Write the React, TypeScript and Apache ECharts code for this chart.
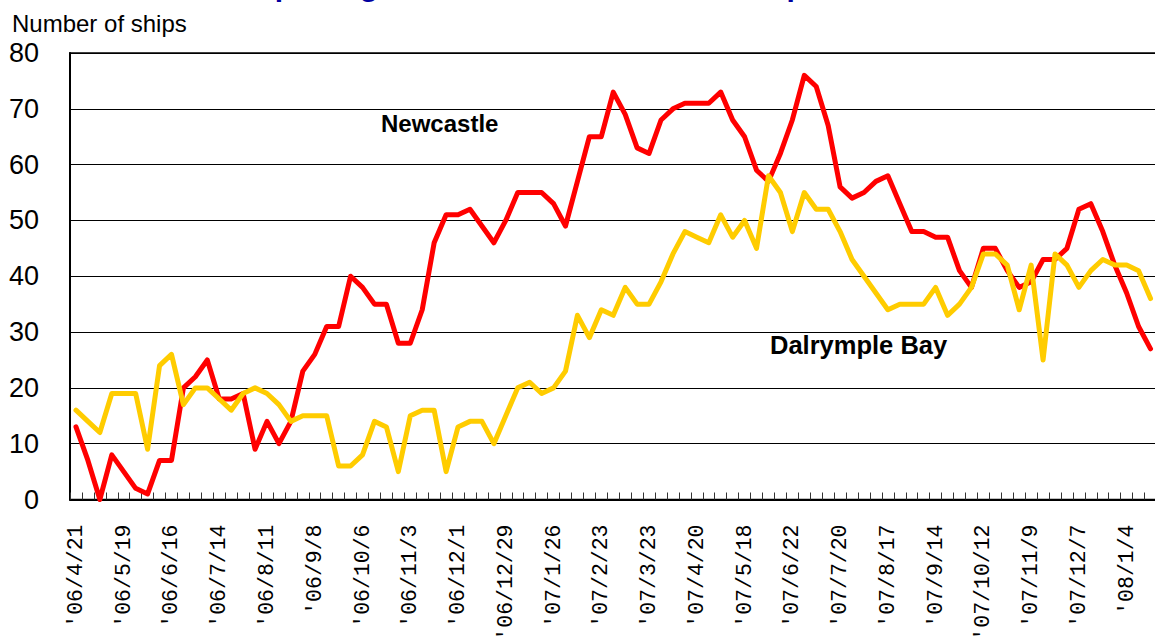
import React, { useEffect, useRef } from "react";
import * as echarts from "echarts";

const dates = [
  "'06/4/21", "'06/4/28", "'06/5/5", "'06/5/12", "'06/5/19", "'06/5/26", "'06/6/2", "'06/6/9",
  "'06/6/16", "'06/6/23", "'06/6/30", "'06/7/7", "'06/7/14", "'06/7/21", "'06/7/28", "'06/8/4",
  "'06/8/11", "'06/8/18", "'06/8/25", "'06/9/1", "'06/9/8", "'06/9/15", "'06/9/22", "'06/9/29",
  "'06/10/6", "'06/10/13", "'06/10/20", "'06/10/27", "'06/11/3", "'06/11/10", "'06/11/17", "'06/11/24",
  "'06/12/1", "'06/12/8", "'06/12/15", "'06/12/22", "'06/12/29", "'07/1/5", "'07/1/12", "'07/1/19",
  "'07/1/26", "'07/2/2", "'07/2/9", "'07/2/16", "'07/2/23", "'07/3/2", "'07/3/9", "'07/3/16",
  "'07/3/23", "'07/3/30", "'07/4/6", "'07/4/13", "'07/4/20", "'07/4/27", "'07/5/4", "'07/5/11",
  "'07/5/18", "'07/5/25", "'07/6/1", "'07/6/8", "'07/6/22", "'07/6/29", "'07/7/6", "'07/7/13",
  "'07/7/20", "'07/7/27", "'07/8/3", "'07/8/10", "'07/8/17", "'07/8/24", "'07/8/31", "'07/9/7",
  "'07/9/14", "'07/9/21", "'07/9/28", "'07/10/5", "'07/10/12", "'07/10/19", "'07/10/26", "'07/11/2",
  "'07/11/9", "'07/11/16", "'07/11/23", "'07/11/30", "'07/12/7", "'07/12/14", "'07/12/21", "'07/12/28",
  "'08/1/4", "'08/1/11", "'08/1/18",
];

const newcastle = [
  13, 7, 0, 8, 5, 2, 1, 7, 7, 20, 22, 25, 18, 18, 19, 9,
  14, 10, 14, 23, 26, 31, 31, 40, 38, 35, 35, 28, 28, 34, 46, 51,
  51, 52, 49, 46, 50, 55, 55, 55, 53, 49, 57, 65, 65, 73, 69, 63,
  62, 68, 70, 71, 71, 71, 73, 68, 65, 59, 57, 62, 68, 76, 74, 67,
  56, 54, 55, 57, 58, 53, 48, 48, 47, 47, 41, 38, 45, 45, 41, 38,
  39, 43, 43, 45, 52, 53, 48, 42, 37, 31, 27,
];

const dalrympleBay = [
  16, 14, 12, 19, 19, 19, 9, 24, 26, 17, 20, 20, 18, 16, 19, 20,
  19, 17, 14, 15, 15, 15, 6, 6, 8, 14, 13, 5, 15, 16, 16, 5,
  13, 14, 14, 10, 15, 20, 21, 19, 20, 23, 33, 29, 34, 33, 38, 35,
  35, 39, 44, 48, 47, 46, 51, 47, 50, 45, 58, 55, 48, 55, 52, 52,
  48, 43, 40, 37, 34, 35, 35, 35, 38, 33, 35, 38, 44, 44, 42, 34,
  42, 25, 44, 42, 38, 41, 43, 42, 42, 41, 36,
];

const yMin = 0;
const yMax = 80;
const yStep = 10;

const titleText = "Ship Congestion at Newcastle & DBCT ports";
const yAxisTitle = "Number of ships";
const labelNewcastle = "Newcastle";
const labelDalrymple = "Dalrymple Bay";

const CHART_W = 1160;
const CHART_H = 638;

export default function App() {
  const ref = useRef<HTMLDivElement>(null);

  useEffect(() => {
    if (!ref.current) return;
    const chart = echarts.init(ref.current, null, { renderer: "svg" });
    const plotW = 1086.5;
    chart.setOption({
      animation: false,
      backgroundColor: "#fff",
      grid: {
        left: 70,
        right: CHART_W - 70 - plotW,
        top: 53,
        bottom: 138.5,
        containLabel: false,
        outerBoundsMode: "none",
        show: true,
        borderColor: "#000",
        borderWidth: 1.5,
        backgroundColor: "transparent",
      },
      xAxis: {
        type: "category",
        data: dates,
        boundaryGap: true,
        axisLine: { show: true, lineStyle: { color: "#000", width: 2 } },
        axisTick: {
          show: true,
          inside: true,
          length: 7,
          interval: 0,
          lineStyle: { color: "#333", width: 1 },
        },
        axisLabel: {
          interval: 3,
          rotate: 90,
          margin: 25,
          fontFamily: "Liberation Mono",
          fontSize: 21.5,
          color: "#000",
        },
        splitLine: { show: false },
      },
      yAxis: {
        type: "value",
        min: yMin,
        max: yMax,
        interval: yStep,
        axisLine: { show: true, lineStyle: { color: "#000", width: 2 } },
        axisTick: { show: false },
        axisLabel: {
          margin: 31,
          fontFamily: "Liberation Sans",
          fontSize: 27,
          color: "#000",
          padding: [8, 0, 0, 0],
        },
        splitLine: { show: true, lineStyle: { color: "#000", width: 1 } },
      },
      series: [
        {
          type: "line",
          name: labelNewcastle,
          data: newcastle,
          symbol: "none",
          z: 3,
          lineStyle: { color: "#FF0000", width: 5, cap: "round", join: "round" },
        },
        {
          type: "line",
          name: labelDalrymple,
          data: dalrympleBay,
          symbol: "none",
          z: 4,
          lineStyle: { color: "#FFCC00", width: 5, cap: "round", join: "round" },
        },
      ],
      graphic: [
        {
          type: "text",
          left: 228,
          top: -30,
          style: {
            text: titleText,
            fontFamily: "Liberation Sans",
            fontWeight: "bold",
            fontSize: 30,
            fill: "#0000A0",
          },
          z: 10,
        },
        {
          type: "text",
          x: 12,
          y: 23.4,
          style: {
            text: yAxisTitle,
            fontFamily: "Liberation Sans",
            fontSize: 24,
            fill: "#000",
            verticalAlign: "middle",
            align: "left",
          },
          z: 10,
        },
        {
          type: "text",
          x: 381,
          y: 123.4,
          style: {
            text: labelNewcastle,
            fontFamily: "Liberation Sans",
            fontWeight: "bold",
            fontSize: 24,
            fill: "#000",
            verticalAlign: "middle",
            align: "left",
          },
          z: 10,
        },
        {
          type: "text",
          x: 770,
          y: 344.5,
          style: {
            text: labelDalrymple,
            fontFamily: "Liberation Sans",
            fontWeight: "bold",
            fontSize: 25.5,
            fill: "#000",
            verticalAlign: "middle",
            align: "left",
          },
          z: 10,
        },
      ],
    });
    return () => chart.dispose();
  }, []);

  return (
    <div
      style={{
        position: "fixed",
        left: 0,
        top: 0,
        width: 1155,
        height: 638,
        overflow: "hidden",
        background: "#fff",
      }}
    >
      <div ref={ref} style={{ width: CHART_W, height: CHART_H }} />
    </div>
  );
}
